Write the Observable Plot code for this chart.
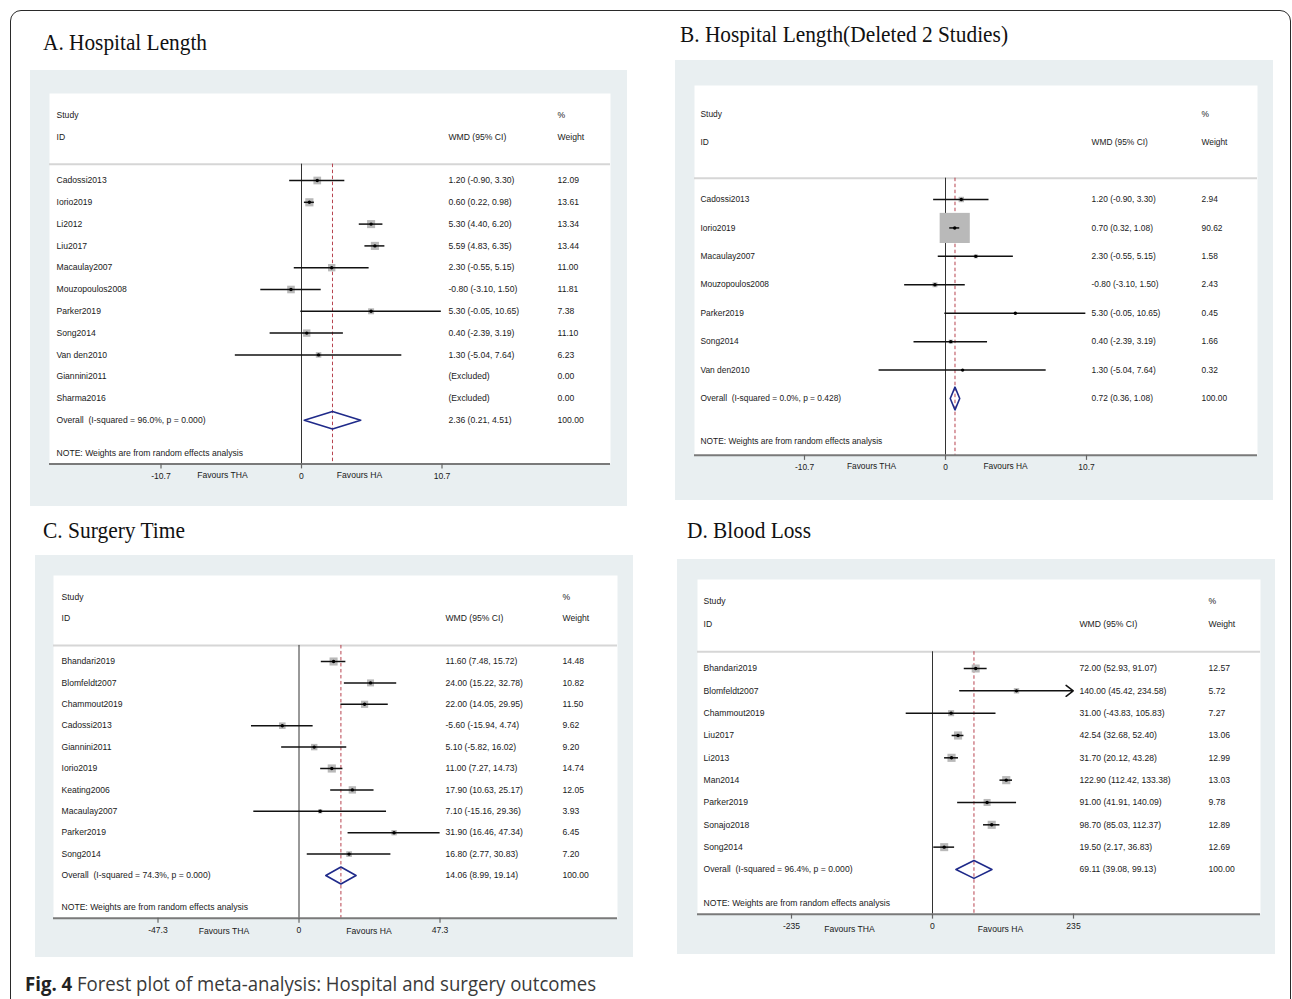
<!DOCTYPE html>
<html>
<head>
<meta charset="utf-8">
<script src="https://cdn.jsdelivr.net/npm/d3@7"></script>
<script src="https://cdn.jsdelivr.net/npm/@observablehq/plot@0.6"></script>
<style>
  html, body { margin: 0; padding: 0; background: #ffffff; }
  body { width: 1292px; height: 999px; position: relative; overflow: hidden; }
  #border { position: absolute; left: 10px; top: 10px; width: 1281px; height: 1200px;
            border: 1.5px solid #2a2a2a; border-radius: 11px; box-sizing: border-box; }
  .panel { position: absolute; }
  .panel svg { display: block; max-width: none; }
  #overlay { position: absolute; left: 0; top: 0; pointer-events: none; }
</style>
</head>
<body>
<div id="border"></div>
<div id="pA" class="panel"></div>
<div id="pB" class="panel"></div>
<div id="pC" class="panel"></div>
<div id="pD" class="panel"></div>
<svg id="overlay" width="1292" height="999"></svg>
<script>
// ---------------- DATA ----------------
// A. Hospital Length
const studiesA = ["Cadossi2013","Iorio2019","Li2012","Liu2017","Macaulay2007","Mouzopoulos2008","Parker2019","Song2014","Van den2010","Giannini2011","Sharma2016"];
const estA     = [1.20, 0.60, 5.30, 5.59, 2.30, -0.80, 5.30, 0.40, 1.30, null, null];
const loA      = [-0.90, 0.22, 4.40, 4.83, -0.55, -3.10, -0.05, -2.39, -5.04, null, null];
const hiA      = [3.30, 0.98, 6.20, 6.35, 5.15, 1.50, 10.65, 3.19, 7.64, null, null];
const weightA  = [12.09, 13.61, 13.34, 13.44, 11.00, 11.81, 7.38, 11.10, 6.23, 0.00, 0.00];
const overallA = [2.36, 0.21, 4.51];
const hetA     = ["96.0%", "0.000"];

// B. Hospital Length (Deleted 2 Studies)
const studiesB = ["Cadossi2013","Iorio2019","Macaulay2007","Mouzopoulos2008","Parker2019","Song2014","Van den2010"];
const estB     = [1.20, 0.70, 2.30, -0.80, 5.30, 0.40, 1.30];
const loB      = [-0.90, 0.32, -0.55, -3.10, -0.05, -2.39, -5.04];
const hiB      = [3.30, 1.08, 5.15, 1.50, 10.65, 3.19, 7.64];
const weightB  = [2.94, 90.62, 1.58, 2.43, 0.45, 1.66, 0.32];
const overallB = [0.72, 0.36, 1.08];
const hetB     = ["0.0%", "0.428"];

// C. Surgery Time
const studiesC = ["Bhandari2019","Blomfeldt2007","Chammout2019","Cadossi2013","Giannini2011","Iorio2019","Keating2006","Macaulay2007","Parker2019","Song2014"];
const estC     = [11.60, 24.00, 22.00, -5.60, 5.10, 11.00, 17.90, 7.10, 31.90, 16.80];
const loC      = [7.48, 15.22, 14.05, -15.94, -5.82, 7.27, 10.63, -15.16, 16.46, 2.77];
const hiC      = [15.72, 32.78, 29.95, 4.74, 16.02, 14.73, 25.17, 29.36, 47.34, 30.83];
const weightC  = [14.48, 10.82, 11.50, 9.62, 9.20, 14.74, 12.05, 3.93, 6.45, 7.20];
const overallC = [14.06, 8.99, 19.14];
const hetC     = ["74.3%", "0.000"];

// D. Blood Loss
const studiesD = ["Bhandari2019","Blomfeldt2007","Chammout2019","Liu2017","Li2013","Man2014","Parker2019","Sonajo2018","Song2014"];
const estD     = [72.00, 140.00, 31.00, 42.54, 31.70, 122.90, 91.00, 98.70, 19.50];
const loD      = [52.93, 45.42, -43.83, 32.68, 20.12, 112.42, 41.91, 85.03, 2.17];
const hiD      = [91.07, 234.58, 105.83, 52.40, 43.28, 133.38, 140.09, 112.37, 36.83];
const weightD  = [12.57, 5.72, 7.27, 13.06, 12.99, 13.03, 9.78, 12.89, 12.69];
const overallD = [69.11, 39.08, 99.13];
const hetD     = ["96.4%", "0.000"];
const arrowD   = ["Blomfeldt2007"];

// axis ticks
const ticksA = [-10.7, 0, 10.7];
const ticksB = [-10.7, 0, 10.7];
const ticksC = [-47.3, 0, 47.3];
const ticksD = [-235, 0, 235];

// labels
const headerTop = ["Study", "%"];
const headerBottom = ["ID", "WMD (95% CI)", "Weight"];
const noteText = "NOTE: Weights are from random effects analysis";
const favours = ["Favours THA", "Favours HA"];
const panelTitles = ["A. Hospital Length", "B. Hospital Length(Deleted 2 Studies)", "C. Surgery Time", "D. Blood Loss"];
const captionBold = "Fig. 4";
const captionRest = " Forest plot of meta-analysis: Hospital and surgery outcomes";

// ---------------- LAYOUT ----------------
const FONT = "'Liberation Sans', Arial, Helvetica, sans-serif";
const GRAY = "#e9eff1";
const layoutA = {left:30, top:70, w:597, h:436, wl:49, wr:610, wt:93, row0:180, step:21.8, x0px:160.5, x1px:441.5, c1:56, c2:448, c3:557, rmax:4.6, favL:-79, favR:58, favDy:11, fs:8.6};
const layoutB = {left:675, top:60, w:598, h:440, wl:694, wr:1257, wt:85, row0:199, step:28.43, x0px:804, x1px:1086, c1:700, c2:1091, c3:1201, rmax:17, favL:-74, favR:60, favDy:11, fs:8.4};
const layoutC = {left:35, top:555, w:598, h:402, wl:53, wr:617, wt:575, row0:661, step:21.4, x0px:157.5, x1px:439.5, c1:61, c2:445, c3:562, rmax:4.6, favL:-75, favR:70, favDy:13, fs:8.6};
const layoutD = {left:677, top:559, w:598, h:395, wl:697, wr:1260, wt:579, row0:668, step:22.33, x0px:791, x1px:1073, c1:703, c2:1079, c3:1208, rmax:4.6, favL:-83, favR:68, favDy:15, fs:8.6};

const f2 = v => v.toFixed(2);

function forest(L, studies, est, lo, hi, weight, overall, het, ticks, arrows = []) {
  const n = studies.length;
  const rows = studies.map((s, i) => ({
    i, study: s, est: est[i], lo: lo[i], hi: hi[i], w: weight[i],
    wmd: est[i] == null ? "(Excluded)" : `${f2(est[i])} (${f2(lo[i])}, ${f2(hi[i])})`,
    wt: f2(weight[i]),
    arrow: arrows.includes(s)
  }));
  const shown = rows.filter(r => r.est != null);
  const lines = shown.filter(r => !r.arrow);
  const arrowRows = shown.filter(r => r.arrow);
  const oRow = n, noteRow = n + 1.5, axisRow = n + 2, hdrRow = -0.75;
  const overallRow = [{
    i: oRow,
    study: `Overall\u00a0\u00a0(I-squared = ${het[0]}, p = ${het[1]})`,
    wmd: `${f2(overall[0])} (${f2(overall[1])}, ${f2(overall[2])})`,
    wt: "100.00"
  }];
  const diamond = [
    {x: overall[1], y: oRow}, {x: overall[0], y: oRow - 0.4},
    {x: overall[2], y: oRow}, {x: overall[0], y: oRow + 0.4}, {x: overall[1], y: oRow}
  ];
  const yTop = L.row0 - L.top;
  const yAxis = yTop + axisRow * L.step;
  const tick = ticks[ticks.length - 1];
  const maxW = d3.max(weight);
  const txt = {frameAnchor: "left", textAnchor: "start", lineAnchor: "middle", fill: "#1a1a1a", fontSize: L.fs};
  const d1 = L.c1 - L.wl, d2 = L.c2 - L.wl, d3x = L.c3 - L.wl;

  return Plot.plot({
    width: L.w, height: L.h,
    marginLeft: L.wl - L.left,
    marginRight: L.left + L.w - L.wr,
    marginTop: L.wt - L.top,
    marginBottom: L.h - yAxis,
    x: {domain: [-tick, tick], range: [L.x0px - L.left, L.x1px - L.left], axis: null},
    y: {domain: [-3, axisRow], range: [yTop - 3 * L.step, yAxis], axis: null},
    r: {type: "sqrt", domain: [0, maxW], range: [0, L.rmax]},
    style: {background: GRAY, fontFamily: FONT, fontSize: L.fs + "px", color: "#1a1a1a", overflow: "visible"},
    marks: [
      Plot.frame({fill: "white", stroke: "none"}),
      Plot.ruleY([hdrRow], {stroke: "#d6d6d6", strokeWidth: 2}),
      Plot.ruleX([0], {y1: () => hdrRow, y2: () => axisRow, stroke: "#333", strokeWidth: 1}),
      Plot.ruleX([overall[0]], {y1: () => hdrRow, y2: () => axisRow, stroke: "#b8434f", strokeWidth: 1, strokeDasharray: "3.5,2.5"}),
      Plot.dot(shown, {x: "est", y: "i", r: "w", symbol: "square", fill: "#b9b9b9", stroke: "none"}),
      Plot.ruleY(lines, {y: "i", x1: "lo", x2: "hi", stroke: "#111", strokeWidth: 1.5}),
      Plot.arrow(arrowRows, {x1: "lo", x2: "hi", y1: "i", y2: "i", stroke: "#111", strokeWidth: 1.5, headAngle: 75, headLength: 9}),
      Plot.dot(shown, {x: "est", y: "i", r: 1.7, fill: "#000", stroke: "none"}),
      Plot.line(diamond, {x: "x", y: "y", stroke: "#1f2a8a", strokeWidth: 1.6}),
      // text columns
      Plot.text(rows, {y: "i", text: "study", dx: d1, ...txt}),
      Plot.text(rows, {y: "i", text: "wmd", dx: d2, ...txt}),
      Plot.text(rows, {y: "i", text: "wt", dx: d3x, ...txt}),
      Plot.text(overallRow, {y: "i", text: "study", dx: d1, ...txt}),
      Plot.text(overallRow, {y: "i", text: "wmd", dx: d2, ...txt}),
      Plot.text(overallRow, {y: "i", text: "wt", dx: d3x, ...txt}),
      // headers
      Plot.text([headerTop[0]], {y: () => -3, text: d => d, dx: d1, ...txt}),
      Plot.text([headerTop[1]], {y: () => -3, text: d => d, dx: d3x, ...txt}),
      Plot.text([headerBottom[0]], {y: () => -2, text: d => d, dx: d1, ...txt}),
      Plot.text([headerBottom[1]], {y: () => -2, text: d => d, dx: d2, ...txt}),
      Plot.text([headerBottom[2]], {y: () => -2, text: d => d, dx: d3x, ...txt}),
      Plot.text([noteText], {y: () => noteRow, text: d => d, dx: d1, ...txt}),
      // axis
      Plot.ruleY([axisRow], {stroke: "#7a7a7a", strokeWidth: 2}),
      Plot.axisX({ticks, tickFormat: d => String(d), tickSize: 5, tickPadding: 4, stroke: "#666", strokeWidth: 1.2, fill: "#1a1a1a", fontSize: L.fs}),
      Plot.text([favours[0]], {x: () => 0, text: d => d, frameAnchor: "bottom", lineAnchor: "middle", dx: L.favL, dy: L.favDy, textAnchor: "middle", fill: "#1a1a1a", fontSize: L.fs}),
      Plot.text([favours[1]], {x: () => 0, text: d => d, frameAnchor: "bottom", lineAnchor: "middle", dx: L.favR, dy: L.favDy, textAnchor: "middle", fill: "#1a1a1a", fontSize: L.fs})
    ]
  });
}

function mount(id, L, chart) {
  const el = document.getElementById(id);
  el.style.left = L.left + "px";
  el.style.top = L.top + "px";
  el.style.width = L.w + "px";
  el.style.height = L.h + "px";
  el.appendChild(chart);
}

mount("pA", layoutA, forest(layoutA, studiesA, estA, loA, hiA, weightA, overallA, hetA, ticksA));
mount("pB", layoutB, forest(layoutB, studiesB, estB, loB, hiB, weightB, overallB, hetB, ticksB));
mount("pC", layoutC, forest(layoutC, studiesC, estC, loC, hiC, weightC, overallC, hetC, ticksC));
mount("pD", layoutD, forest(layoutD, studiesD, estD, loD, hiD, weightD, overallD, hetD, ticksD, arrowD));

// ---------------- TITLES & CAPTION ----------------
const titleLayout = [
  {x: 43, y: 50, len: 164},
  {x: 680, y: 42, len: 328},
  {x: 43, y: 538, len: 142},
  {x: 687, y: 538, len: 124}
];
const NS = "http://www.w3.org/2000/svg";
const ov = document.getElementById("overlay");
panelTitles.forEach((t, k) => {
  const el = document.createElementNS(NS, "text");
  el.setAttribute("x", titleLayout[k].x);
  el.setAttribute("y", titleLayout[k].y);
  el.setAttribute("textLength", titleLayout[k].len);
  el.setAttribute("lengthAdjust", "spacingAndGlyphs");
  el.setAttribute("font-family", "'Liberation Serif', 'Times New Roman', serif");
  el.setAttribute("font-size", "23");
  el.setAttribute("fill", "#111");
  el.textContent = t;
  ov.appendChild(el);
});
const cap = document.createElementNS(NS, "text");
cap.setAttribute("x", 25);
cap.setAttribute("y", 991);
cap.setAttribute("textLength", 571);
cap.setAttribute("lengthAdjust", "spacingAndGlyphs");
cap.setAttribute("font-family", "'Open Sans', 'Noto Sans', sans-serif");
cap.setAttribute("font-size", "20");
cap.setAttribute("fill", "#3a3a3a");
cap.style.whiteSpace = "pre";
const tb = document.createElementNS(NS, "tspan");
tb.setAttribute("font-weight", "bold");
tb.setAttribute("fill", "#222");
tb.textContent = captionBold;
const tr = document.createElementNS(NS, "tspan");
tr.textContent = captionRest;
cap.appendChild(tb);
cap.appendChild(tr);
ov.appendChild(cap);
</script>
</body>
</html>
